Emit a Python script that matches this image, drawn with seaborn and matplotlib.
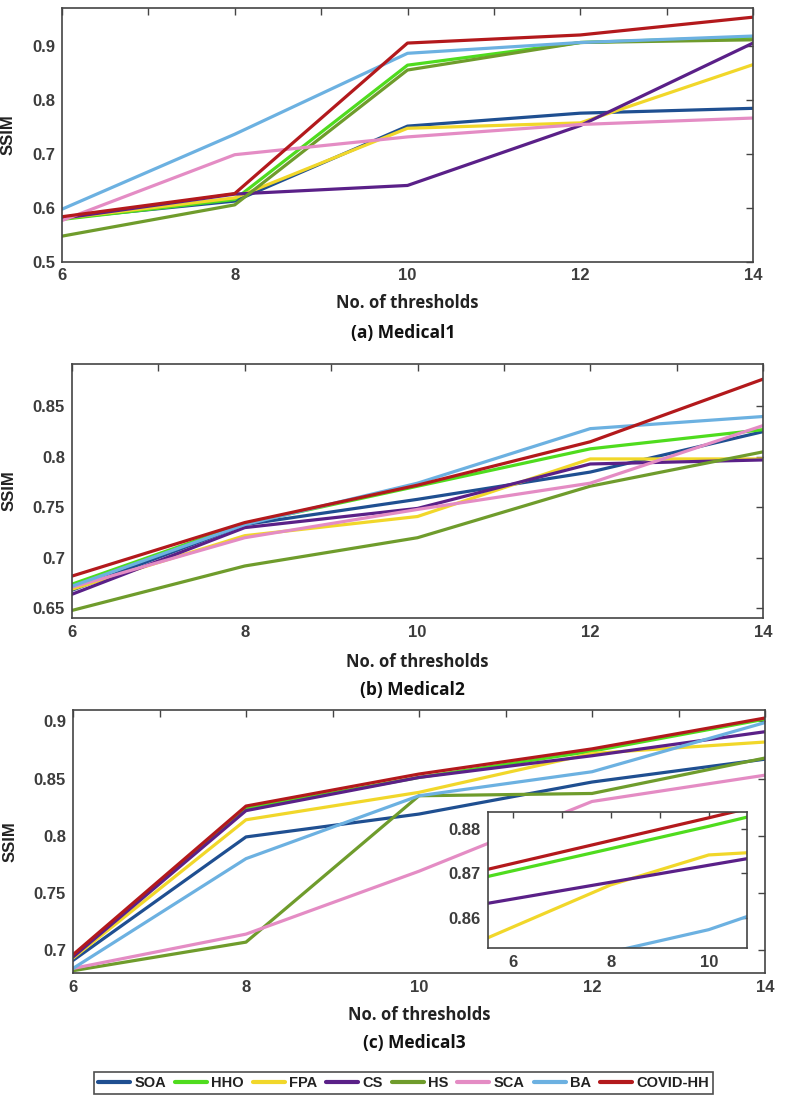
import numpy as np
import pandas as pd
import matplotlib.pyplot as plt
import seaborn as sns

# data
thresholds = [6, 8, 10, 12, 14]
methods = ['SOA', 'HHO', 'FPA', 'CS', 'HS', 'SCA', 'BA', 'COVID-HH']
colors = ['#1f4f91', '#4fdc1e', '#f1d72a', '#5a2088', '#6f9c2c',
          '#e48cc4', '#6cb1e1', '#b3191c']

medical1 = {
    'SOA':      [0.580, 0.612, 0.751, 0.775, 0.784],
    'HHO':      [0.578, 0.615, 0.864, 0.906, 0.916],
    'FPA':      [0.580, 0.618, 0.747, 0.757, 0.865],
    'CS':       [0.580, 0.625, 0.641, 0.752, 0.905],
    'HS':       [0.547, 0.605, 0.855, 0.906, 0.911],
    'SCA':      [0.576, 0.698, 0.731, 0.754, 0.766],
    'BA':       [0.597, 0.736, 0.886, 0.906, 0.918],
    'COVID-HH': [0.583, 0.626, 0.905, 0.920, 0.953],
}
medical2 = {
    'SOA':      [0.668, 0.733, 0.758, 0.785, 0.825],
    'HHO':      [0.674, 0.734, 0.771, 0.808, 0.827],
    'FPA':      [0.669, 0.722, 0.741, 0.798, 0.798],
    'CS':       [0.664, 0.730, 0.749, 0.793, 0.797],
    'HS':       [0.648, 0.692, 0.720, 0.771, 0.805],
    'SCA':      [0.671, 0.720, 0.748, 0.774, 0.831],
    'BA':       [0.672, 0.733, 0.774, 0.828, 0.840],
    'COVID-HH': [0.682, 0.735, 0.772, 0.815, 0.877],
}
medical3 = {
    'SOA':      [0.691, 0.799, 0.819, 0.847, 0.867],
    'HHO':      [0.695, 0.824, 0.851, 0.874, 0.902],
    'FPA':      [0.693, 0.814, 0.838, 0.872, 0.882],
    'CS':       [0.694, 0.822, 0.851, 0.870, 0.891],
    'HS':       [0.682, 0.707, 0.835, 0.837, 0.868],
    'SCA':      [0.684, 0.714, 0.769, 0.830, 0.853],
    'BA':       [0.684, 0.780, 0.835, 0.856, 0.899],
    'COVID-HH': [0.696, 0.826, 0.854, 0.876, 0.903],
}
# zoomed inset of panel (c)
inset_x = [5.5, 8, 10, 10.8]
inset_vals = {
    'FPA':      [0.8556, 0.8674, 0.8741, 0.8746],
    'CS':       [0.8633, 0.8680, 0.8718, 0.8733],
    'BA':       [0.8462, 0.8524, 0.8574, 0.8604],
    'HHO':      [0.8693, 0.8755, 0.8805, 0.8826],
    'COVID-HH': [0.8709, 0.8773, 0.8824, 0.8845],
}

palette = dict(zip(methods, colors))

def to_long(d, xs):
    rows = []
    for m in methods:
        if m in d:
            for x, v in zip(xs, d[m]):
                rows.append((m, x, v))
    return pd.DataFrame(rows, columns=['method', 'thresholds', 'SSIM'])

sns.set_style('white')
plt.rcParams['font.family'] = ['Liberation Sans', 'DejaVu Sans']
plt.rcParams['font.weight'] = 'bold'
plt.rcParams['axes.labelweight'] = 'bold'

W, H = 789, 1104
fig = plt.figure(figsize=(W / 100, H / 100), dpi=100)

def box(l, t, r, b):
    return [l / W, 1 - b / H, (r - l) / W, (b - t) / H]

panels = [
    (medical1, box(62, 8, 753, 261.5), (0.5, 0.97), [0.5, 0.6, 0.7, 0.8, 0.9], ['0.5', '0.6', '0.7', '0.8', '0.9'],
     '(a) Medical1', 303, 333, -0.067),
    (medical2, box(72, 364, 763, 618), (0.6405, 0.892), [0.65, 0.7, 0.75, 0.8, 0.85], ['0.65', '0.7', '0.75', '0.8', '0.85'],
     '(b) Medical2', 662, 690, -0.08),
    (medical3, box(73, 710, 765, 973), (0.68, 0.91), [0.7, 0.75, 0.8, 0.85, 0.9], ['0.7', '0.75', '0.8', '0.85', '0.9'],
     '(c) Medical3', 1015, 1043, -0.08),
]

tick_col = '#3c3c3c'
axes = []
for data, pos, ylim, yt, ytl, caption, xl_y, cap_y, ylab_x in panels:
    ax = fig.add_axes(pos)
    df = to_long(data, thresholds)
    sns.lineplot(data=df, x='thresholds', y='SSIM', hue='method', hue_order=methods,
                 palette=palette, lw=2.3, ax=ax, legend=(caption.startswith('(c)')))
    ax.set_xlim(6, 14)
    ax.set_ylim(*ylim)
    ax.set_xticks(range(6, 15))
    ax.set_xticklabels([str(t) if t % 2 == 0 else '' for t in range(6, 15)])
    ax.set_yticks(yt)
    ax.set_yticklabels(ytl)
    ax.tick_params(direction='in', length=5, width=1, top=True, right=True,
                   labelsize=12, labelcolor=tick_col, color='#444444', pad=5)
    for s in ax.spines.values():
        s.set_color('#444444')
        s.set_linewidth(1.2)
    ax.set_xlabel('')
    ax.set_ylabel('SSIM', fontsize=12, color='#222222')
    ax.yaxis.set_label_coords(ylab_x, 0.5)
    cx = (pos[0] + pos[2] / 2)
    fig.text(cx, 1 - xl_y / H, 'No. of thresholds', ha='center', va='center',
             fontsize=12, family=['Open Sans', 'DejaVu Sans'], color='#222222')
    fig.text(cx - 0.006, 1 - cap_y / H, caption, ha='center', va='center',
             fontsize=12.5, family=['Open Sans', 'DejaVu Sans'], color='#111111')
    axes.append(ax)

handles, labels = axes[2].get_legend_handles_labels()
axes[2].get_legend().remove()

# inset
axi = fig.add_axes(box(488, 812, 747, 948))
dfi = to_long(inset_vals, inset_x)
sns.lineplot(data=dfi, x='thresholds', y='SSIM', hue='method',
             hue_order=[m for m in methods if m in inset_vals],
             palette=palette, lw=2.3, ax=axi, legend=False)
axi.set_xlim(5.5, 10.78)
axi.set_ylim(0.8533, 0.8837)
axi.set_xticks(range(6, 11))
axi.set_xticklabels([str(t) if t % 2 == 0 else '' for t in range(6, 11)])
axi.set_yticks([0.86, 0.87, 0.88])
axi.set_yticklabels(['0.86', '0.87', '0.88'])
axi.tick_params(direction='in', length=4, width=1, top=True, right=True,
                labelsize=12, labelcolor=tick_col, color='#444444', pad=5)
for s in axi.spines.values():
    s.set_color('#444444')
    s.set_linewidth(1.2)
axi.set_xlabel('')
axi.set_ylabel('')

for h in handles:
    h.set_linewidth(3)
leg = fig.legend(handles, labels, loc='center', bbox_to_anchor=(403.5 / W, 1 - 1083 / H),
                 ncol=8, frameon=True, fancybox=False, edgecolor='#222222',
                 handlelength=2.2, handletextpad=0.3, columnspacing=0.6,
                 borderpad=0.3, prop={'size': 10.5, 'weight': 'bold'})
leg.get_frame().set_linewidth(1.2)
for t in leg.get_texts():
    t.set_color('#222222')

fig.savefig('out.png', dpi=100)
